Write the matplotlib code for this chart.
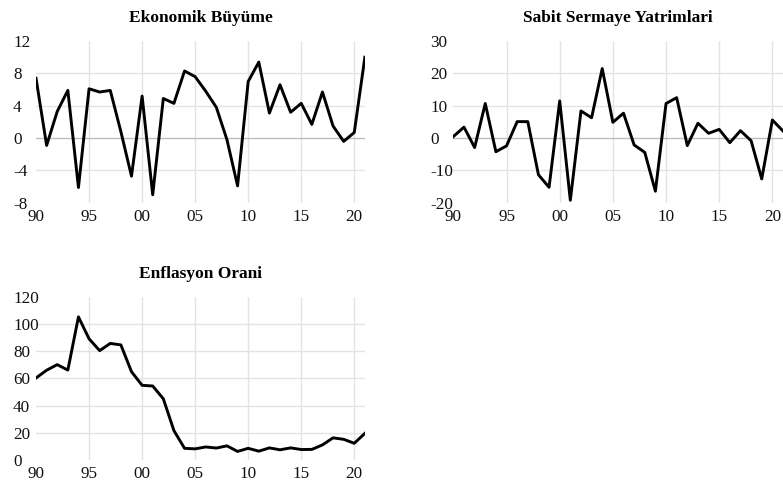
import numpy as np
import matplotlib
matplotlib.use("Agg")
import matplotlib.pyplot as plt

plt.rcParams['font.family'] = ['Liberation Serif', 'DejaVu Serif']

years = np.arange(1990, 2022)

buyume = [7.4, -0.9, 3.3, 5.9, -6.1, 6.1, 5.7, 5.9, 0.8, -4.7,
          5.2, -7.0, 4.9, 4.3, 8.3, 7.6, 5.8, 3.8, -0.2, -5.9,
          7.0, 9.4, 3.1, 6.6, 3.2, 4.3, 1.7, 5.7, 1.5, -0.4,
          0.7, 10.0]

yatirim = [0.5, 3.4, -2.9, 10.7, -4.2, -2.4, 5.1, 5.1, -11.3, -15.2,
           11.5, -19.2, 8.4, 6.3, 21.5, 4.9, 7.7, -2.1, -4.4, -16.4,
           10.7, 12.5, -2.3, 4.6, 1.5, 2.7, -1.4, 2.3, -0.8, -12.6,
           5.6, 2.2]

enflasyon = [60.3, 66.0, 70.1, 66.1, 105.2, 89.1, 80.4, 85.7, 84.6, 64.9,
             54.9, 54.4, 45.0, 21.6, 8.6, 8.2, 9.6, 8.8, 10.4, 6.3,
             8.6, 6.5, 8.9, 7.5, 8.9, 7.7, 7.8, 11.1, 16.3, 15.2,
             12.3, 19.6]

xticks = [1990, 1995, 2000, 2005, 2010, 2015, 2020]
xtick_labels = ['90', '95', '00', '05', '10', '15', '20']

panels = [
    ('Ekonomik Büyüme', buyume, [-8, -4, 0, 4, 8, 12], [0.046, 0.580, 0.420, 0.335]),
    ('Sabit Sermaye Yatrimlari', yatirim, [-20, -10, 0, 10, 20, 30], [0.579, 0.580, 0.421, 0.335]),
    ('Enflasyon Orani', enflasyon, [0, 20, 40, 60, 80, 100, 120], [0.046, 0.0476, 0.420, 0.338]),
]

fig = plt.figure(figsize=(7.83, 4.83), dpi=100)

for title, values, yticks, rect in panels:
    ax = fig.add_axes(rect)
    ax.plot(years, values, color='black', lw=2.1, zorder=3)
    ax.set_xlim(1990, 2021)
    ax.set_ylim(yticks[0], yticks[-1])
    ax.set_xticks(xticks, xtick_labels)
    ax.set_yticks(yticks, [str(v) for v in yticks])
    for s in ax.spines.values():
        s.set_visible(False)
    ax.tick_params(length=0, labelsize=12.3, labelcolor='#111111')
    ax.tick_params(axis='x', pad=4.5)
    ax.tick_params(axis='y', pad=16.5)
    for lab in ax.get_yticklabels():
        lab.set_horizontalalignment('left')
    # inner grid only
    for v in xticks[1:]:
        ax.axvline(v, color='#e3e3e3', lw=1.0, zorder=1)
    for v in yticks[1:-1]:
        ax.axhline(v, color='#bdbdbd' if v == 0 else '#e3e3e3', lw=1.0, zorder=1)
    ax.set_title(title, fontsize=12.5, fontweight='bold', pad=13.5)

fig.savefig('out.png', dpi=100)
